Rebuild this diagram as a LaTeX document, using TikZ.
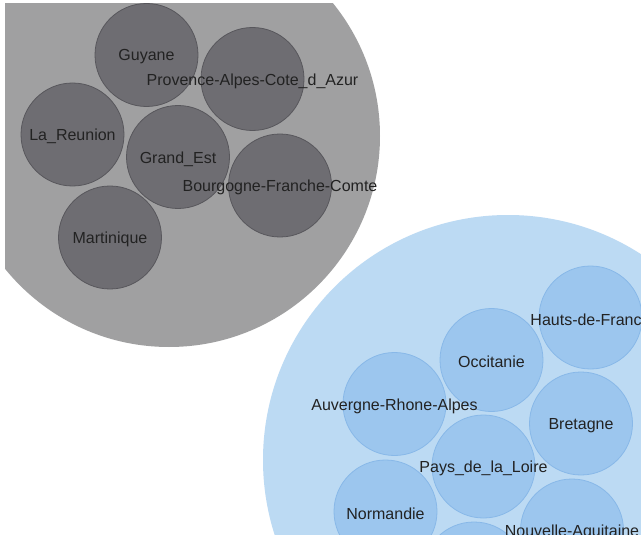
\documentclass[tikz,border=0pt]{standalone}
\usepackage{fontspec}
\setmainfont{Liberation Sans}
\definecolor{grayouter}{HTML}{A0A0A1}
\definecolor{grayinner}{HTML}{6E6D72}
\definecolor{graystroke}{HTML}{58575C}
\definecolor{blueouter}{HTML}{BCDAF3}
\definecolor{blueinner}{HTML}{9CC6EE}
\definecolor{bluestroke}{HTML}{88B8E8}
\definecolor{txt}{HTML}{222222}
\tikzset{
  outer/.style={circle, inner sep=0pt, draw=none},
  gbub/.style={circle, inner sep=0pt, minimum size=103pt, fill=grayinner, draw=graystroke, line width=0.8pt},
  bbub/.style={circle, inner sep=0pt, minimum size=103pt, fill=blueinner, draw=bluestroke, line width=0.8pt},
  lbl/.style={inner sep=0pt, text=txt, font=\fontsize{16}{19}\selectfont, yshift=-2pt}
}
\begin{document}
\begin{tikzpicture}[x=1pt, y=-1pt]
\fill[white] (0,0) rectangle (641,535);
\useasboundingbox (0,0) rectangle (641,535);
\begin{scope}
\clip (5,4) rectangle (641,535);
% outer groups
\node[outer, fill=grayouter, minimum size=422pt] (grp1) at (169,136) {};
\node[outer, fill=blueouter, minimum size=490pt] (grp2) at (508,460) {};
% gray bubbles
\node[gbub] (guy) at (146.5,55) {};
\node[gbub] (pac) at (252.5,79) {};
\node[gbub] (reu) at (72.5,134.5) {};
\node[gbub] (gre) at (178,157) {};
\node[gbub] (bfc) at (280,185.5) {};
\node[gbub] (mar) at (110,237.5) {};
% blue bubbles
\node[bbub] (hdf) at (590.5,317.5) {};
\node[bbub] (occ) at (491.5,360) {};
\node[bbub] (ara) at (394.5,404) {};
\node[bbub] (bre) at (581,423.5) {};
\node[bbub] (pdl) at (483.5,466.5) {};
\node[bbub] (nor) at (385.5,511.5) {};
\node[bbub] (naq) at (572,530.5) {};
\node[bbub] (ext) at (474,573.5) {};
% labels
\node[lbl] at (guy) {Guyane};
\node[lbl] at (pac) {Provence-Alpes-Cote\_d\_Azur};
\node[lbl] at (reu) {La\_Reunion};
\node[lbl] at (gre) {Grand\_Est};
\node[lbl] at (bfc) {Bourgogne-Franche-Comte};
\node[lbl] at (mar) {Martinique};
\node[lbl] at (hdf) {Hauts-de-France};
\node[lbl] at (occ) {Occitanie};
\node[lbl] at (ara) {Auvergne-Rhone-Alpes};
\node[lbl] at (bre) {Bretagne};
\node[lbl] at (pdl) {Pays\_de\_la\_Loire};
\node[lbl] at (nor) {Normandie};
\node[lbl] at (naq) {Nouvelle-Aquitaine};
\end{scope}
\end{tikzpicture}
\end{document}
